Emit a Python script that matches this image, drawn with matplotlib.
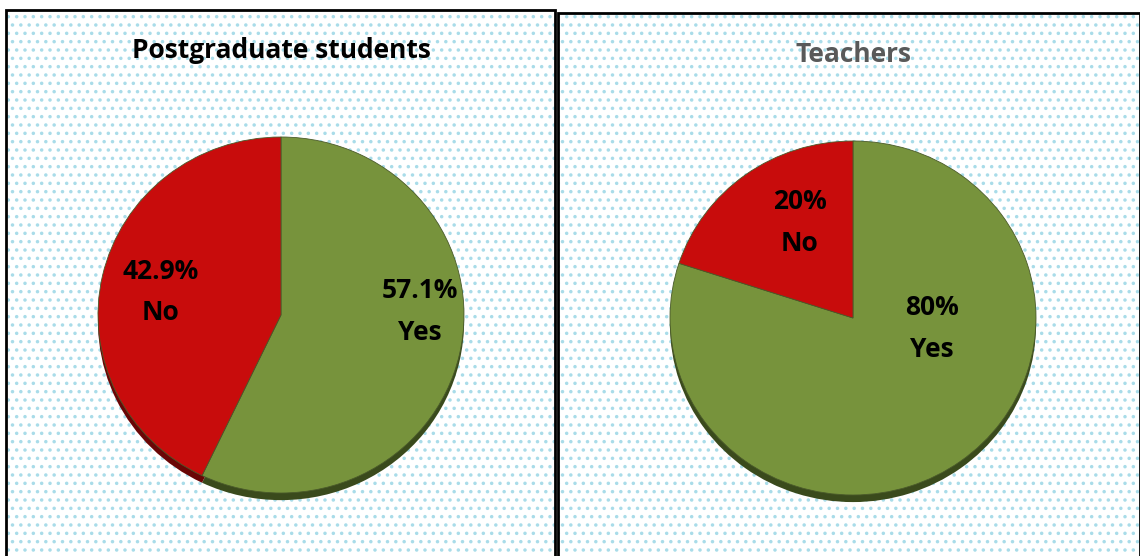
import matplotlib.pyplot as plt
from matplotlib.patches import Rectangle

plt.rcParams['font.family'] = ['Open Sans', 'DejaVu Sans']
plt.rcParams['hatch.linewidth'] = 1.3

labels = ["Yes", "No"]
students = [57.1, 42.9]
teachers = [80, 20]
titles = ["Postgraduate students", "Teachers"]

green = "#77933C"
red = "#C80C0C"
shadow = ["#3A4A1C", "#6A0606"]

W, H = 1140, 556
fig = plt.figure(figsize=(W / 100, H / 100), dpi=100)

# panel backgrounds with dotted pattern and border (pixels: x0, y0, x1, y1)
panels = [(6, 10, 555, 560), (558, 13, 1140, 560)]
for x0, y0, x1, y1 in panels:
    r = Rectangle((x0 / W, 1 - y1 / H), (x1 - x0) / W, (y1 - y0) / H,
                  transform=fig.transFigure, facecolor="white",
                  edgecolor="#A9DCE9", hatch="..", lw=0, zorder=0)
    fig.add_artist(r)
    b = Rectangle((x0 / W, 1 - y1 / H), (x1 - x0) / W, (y1 - y0) / H,
                  transform=fig.transFigure, fill=False,
                  edgecolor="black", lw=2.0, zorder=1)
    fig.add_artist(b)

def draw_pie(cx, cy, rx, ry, values, lab_pos, title, title_y, title_color):
    pad = 1.15
    ax = fig.add_axes([(cx - rx * pad) / W, 1 - (cy + ry * pad) / H,
                       2 * rx * pad / W, 2 * ry * pad / H])
    # shadow / side of the tilted pie
    ax.pie(values, colors=shadow, startangle=90, counterclock=False,
           center=(0, -0.04), radius=1, frame=True,
           wedgeprops=dict(linewidth=0))
    ax.pie(values, colors=[green, red], startangle=90, counterclock=False,
           radius=1, frame=True,
           wedgeprops=dict(linewidth=0.6, edgecolor="#4a5a2a"))
    ax.set_xlim(-pad, pad)
    ax.set_ylim(-pad, pad)
    ax.set_aspect("auto")
    ax.axis("off")
    for (x, y), v, l in zip(lab_pos, values, labels):
        ax.text(x, y, f"{v:g}%\n{l}", ha="center", va="center",
                fontsize=19, fontweight="bold", color="black",
                linespacing=1.7)
    fig.text(cx / W, 1 - title_y / H, title, ha="center", va="center",
             fontsize=19, fontweight="bold", color=title_color)

draw_pie(281, 315, 183, 178, students, [(0.76, 0.02), (-0.66, 0.13)],
         titles[0], 50, "black")
draw_pie(853, 318, 183, 177, teachers, [(0.43, -0.06), (-0.29, 0.54)],
         titles[1], 55, "#595959")

fig.savefig("out.png", dpi=100)
